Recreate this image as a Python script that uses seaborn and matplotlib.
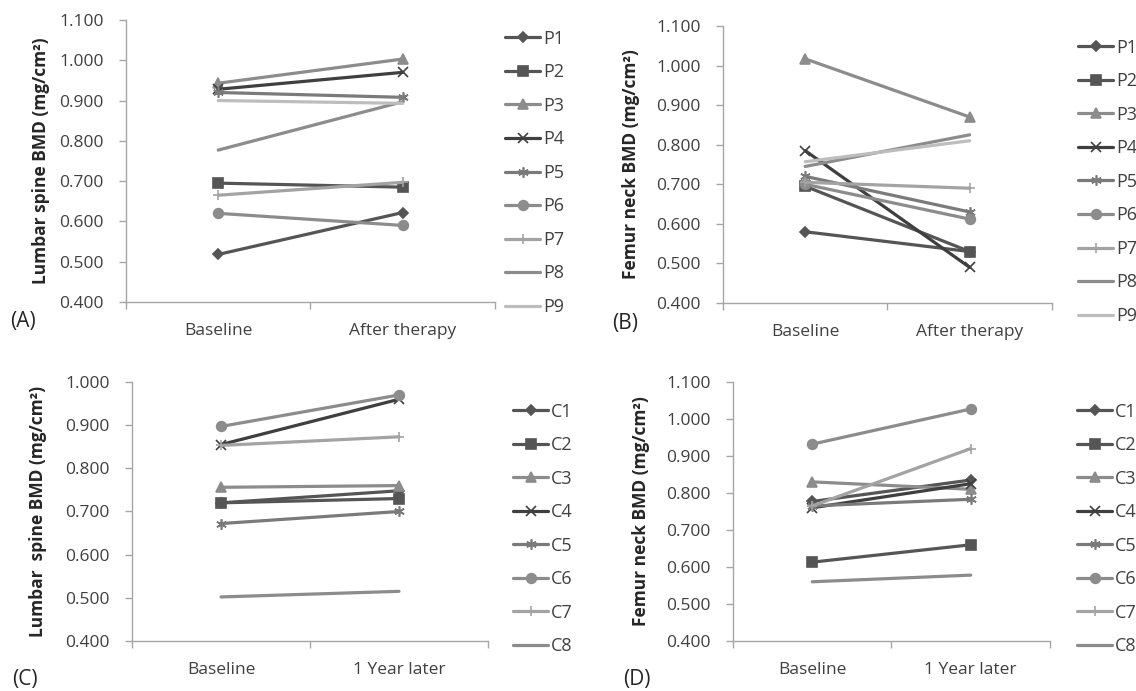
import matplotlib
matplotlib.use("Agg")
import matplotlib.pyplot as plt
import seaborn as sns

# patients (A, B)
patients = ["P1", "P2", "P3", "P4", "P5", "P6", "P7", "P8", "P9"]
times_p = ["Baseline", "After therapy"]
lumbar_p_base = [0.518, 0.695, 0.943, 0.928, 0.920, 0.620, 0.665, 0.777, 0.900]
lumbar_p_after = [0.622, 0.685, 1.003, 0.970, 0.908, 0.590, 0.697, 0.897, 0.893]
femur_p_base = [0.580, 0.695, 1.017, 0.785, 0.720, 0.700, 0.705, 0.745, 0.757]
femur_p_after = [0.530, 0.530, 0.870, 0.490, 0.630, 0.612, 0.690, 0.825, 0.810]

# controls (C, D)
controls = ["C1", "C2", "C3", "C4", "C5", "C6", "C7", "C8"]
times_c = ["Baseline", "1 Year later"]
lumbar_c_base = [0.720, 0.720, 0.756, 0.855, 0.672, 0.897, 0.853, 0.502]
lumbar_c_after = [0.748, 0.730, 0.760, 0.960, 0.700, 0.970, 0.873, 0.515]
femur_c_base = [0.777, 0.613, 0.830, 0.760, 0.765, 0.932, 0.765, 0.560]
femur_c_after = [0.835, 0.660, 0.810, 0.825, 0.783, 1.027, 0.920, 0.578]

colors = ["#555555", "#555555", "#8c8c8c", "#3f3f3f", "#7a7a7a",
          "#8c8c8c", "#a3a3a3", "#8c8c8c", "#bdbdbd"]
markers = ["D", "s", "^", "x", (6, 2, 0), "o", "+", "", ""]
msizes = [5.5, 6.5, 6.5, 6.5, 7.5, 7, 7.5, 0, 0]

sns.set_theme(style="white")
plt.rcParams["font.family"] = ["Open Sans", "DejaVu Sans"]

fig = plt.figure(figsize=(11.36, 6.91), dpi=100)

panels = [
    dict(rect=[0.1109, 0.5630, 0.3248, 0.4081], names=patients, times=times_p,
         base=lumbar_p_base, after=lumbar_p_after, ylim=(0.4, 1.1),
         ylabel="Lumbar spine BMD (mg/cm\u00b2)", ylx=-0.206,
         leg=(0.4445, 0.957), tag="(A)", tagxy=(10, 321)),
    dict(rect=[0.6364, 0.5615, 0.2896, 0.4009], names=patients, times=times_p,
         base=femur_p_base, after=femur_p_after, ylim=(0.4, 1.1),
         ylabel="Femur neck BMD (mg/cm\u00b2)", ylx=-0.252,
         leg=(0.949, 0.944), tag="(B)", tagxy=(612, 323)),
    dict(rect=[0.1162, 0.0724, 0.3134, 0.3748], names=controls, times=times_c,
         base=lumbar_c_base, after=lumbar_c_after, ylim=(0.4, 1.0),
         ylabel="Lumbar  spine BMD (mg/cm\u00b2)", ylx=-0.239,
         leg=(0.4516, 0.4175), tag="(C)", tagxy=(12, 679)),
    dict(rect=[0.6452, 0.0724, 0.2791, 0.3748], names=controls, times=times_c,
         base=femur_c_base, after=femur_c_after, ylim=(0.4, 1.1),
         ylabel="Femur neck BMD (mg/cm\u00b2)", ylx=-0.262,
         leg=(0.948, 0.4175), tag="(D)", tagxy=(623, 680)),
]

for p in panels:
    ax = fig.add_axes(p["rect"])
    for i, name in enumerate(p["names"]):
        sns.lineplot(
            x=p["times"], y=[p["base"][i], p["after"][i]], ax=ax, sort=False,
            color=colors[i], linewidth=2.3, marker=markers[i] or None,
            markersize=msizes[i], markeredgecolor=colors[i],
            markeredgewidth=1.2, label=name,
        )

    ax.set_xlim(-0.5, 1.5)
    ax.set_ylim(*p["ylim"])
    ax.set_yticks([round(0.4 + 0.1 * k, 1)
                   for k in range(int(round((p["ylim"][1] - 0.4) * 10)) + 1)])
    ax.yaxis.set_major_formatter(matplotlib.ticker.FormatStrFormatter("%.3f"))
    ax.set_xticks([0, 1], labels=p["times"])
    ax.set_xticks([-0.5, 0.5, 1.5], minor=True)

    for s in ["top", "right"]:
        ax.spines[s].set_visible(False)
    for s in ["left", "bottom"]:
        ax.spines[s].set_color("#a6a6a6")
        ax.spines[s].set_linewidth(1)

    ax.tick_params(axis="y", which="major", direction="out", length=5, width=1,
                   color="#a6a6a6", pad=11, labelsize=12.5, labelcolor="#404040",
                   left=True)
    ax.tick_params(axis="x", which="major", length=0, pad=15, labelsize=12.5,
                   labelcolor="#404040")
    ax.tick_params(axis="x", which="minor", direction="out", length=5, width=1,
                   color="#a6a6a6", bottom=True)

    ax.set_xlabel("")
    ax.set_ylabel(p["ylabel"], fontsize=12.5, fontweight="bold", color="#262626")
    ax.yaxis.set_label_coords(p["ylx"], 0.5)

    handles, labels = ax.get_legend_handles_labels()
    ax.legend(handles, labels, loc="upper left", bbox_to_anchor=p["leg"],
              bbox_transform=fig.transFigure, frameon=False, fontsize=13,
              handlelength=1.95, handletextpad=0.17, labelspacing=0.86,
              borderpad=0, borderaxespad=0, labelcolor="#404040")

    fig.text(p["tagxy"][0] / 1136, 1 - p["tagxy"][1] / 691, p["tag"],
             fontsize=15, color="#262626", ha="left", va="center")

fig.savefig("out.png", dpi=100)
